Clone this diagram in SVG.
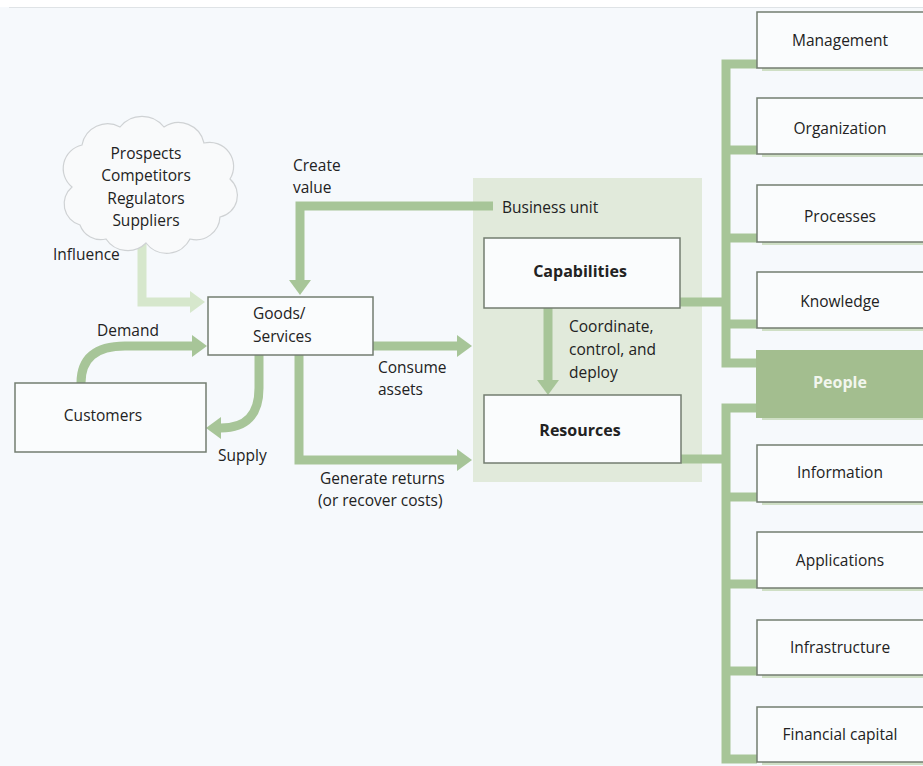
<svg xmlns="http://www.w3.org/2000/svg" width="923" height="766" viewBox="0 0 923 766">
<style>
text{font-family:"Open Sans","Noto Sans","Liberation Sans",sans-serif;font-size:15.5px;fill:#222}
.c{text-anchor:middle}
.b{font-weight:bold;font-size:16px}
.box{fill:#fafcfd;stroke:#737d70;stroke-width:1.5}
.sh{fill:#cfdfc5}
.con{fill:none;stroke:#a7c598;stroke-width:9}
.lite{fill:none;stroke:#d6e7cc;stroke-width:9}
</style>
<defs>
<marker id="ah" markerUnits="userSpaceOnUse" markerWidth="16" markerHeight="24" refX="0" refY="12" orient="auto">
<path d="M0,1 L15,12 L0,23 z" fill="#a7c598"/>
</marker>
<marker id="ahl" markerUnits="userSpaceOnUse" markerWidth="16" markerHeight="24" refX="0" refY="12" orient="auto">
<path d="M0,1 L15,12 L0,23 z" fill="#d6e7cc"/>
</marker>
</defs>
<rect x="0" y="0" width="923" height="766" fill="#f6f9fc"/>
<rect x="0" y="0" width="923" height="7" fill="#ffffff"/>
<line x1="9" y1="7.5" x2="923" y2="7.5" stroke="#dfe3e6" stroke-width="1"/>

<g id="business-unit">
<rect x="473" y="178" width="229" height="304" fill="#e1eadb"/>
<text x="502" y="213">Business unit</text>
</g>

<g id="connectors">
<path class="lite" d="M142,244 V302 H190" marker-end="url(#ahl)"/>
<path class="con" d="M81,383 Q81,346 125,346 H192" marker-end="url(#ah)"/>
<path class="con" d="M259,355 V388 Q259,428 221,428" marker-end="url(#ah)"/>
<path class="con" d="M493,206 H300 V280" marker-end="url(#ah)"/>
<path class="con" d="M373,346 H457" marker-end="url(#ah)"/>
<path class="con" d="M299,355 V460 H457" marker-end="url(#ah)"/>
<path class="con" d="M548,308 V380" marker-end="url(#ah)"/>
<path class="con" d="M680,302 H726"/>
<path class="con" d="M681,459 H726"/>
<path class="con" d="M757,64 H726 V363 H757"/>
<path class="con" d="M726,150 H757 M726,238 H757 M726,324 H757"/>
<path class="con" d="M757,408 H726 V759 H757"/>
<path class="con" d="M726,497 H757 M726,584 H757 M726,671 H757"/>
</g>

<g id="cloud">
<path d="M80,225 a22,22 0 0 1 -8,-38 a24,24 0 0 1 10,-42 a26,26 0 0 1 38,-18 a28,28 0 0 1 44,0 a26,26 0 0 1 40,16 a24,24 0 0 1 26,36 a22,22 0 0 1 -10,38 a24,24 0 0 1 -30,22 a26,26 0 0 1 -44,4 a26,26 0 0 1 -40,-4 a22,22 0 0 1 -26,-14 z" fill="#f9fafb" stroke="#cfd2d4" stroke-width="1.2"/>
<text class="c" x="146" y="159">Prospects</text>
<text class="c" x="146" y="181">Competitors</text>
<text class="c" x="146" y="204">Regulators</text>
<text class="c" x="146" y="226">Suppliers</text>
</g>

<g id="goods-services">
<rect class="box" x="208" y="297" width="165" height="58"/>
<text x="253" y="319">Goods/</text>
<text x="253" y="342">Services</text>
</g>

<g id="customers">
<rect class="box" x="15" y="383" width="191" height="69"/>
<text class="c" x="103" y="421">Customers</text>
</g>

<g id="capabilities">
<rect class="box" x="484" y="238" width="196" height="70"/>
<text class="c b" x="580" y="277">Capabilities</text>
</g>

<g id="resources">
<rect class="box" x="484" y="395" width="197" height="68"/>
<text class="c b" x="580" y="436">Resources</text>
</g>

<g id="labels">
<text x="293" y="171">Create</text>
<text x="293" y="193">value</text>
<text x="53" y="260">Influence</text>
<text x="97" y="336">Demand</text>
<text x="218" y="461">Supply</text>
<text x="378" y="373">Consume</text>
<text x="378" y="395">assets</text>
<text x="320" y="484">Generate returns</text>
<text x="318" y="506">(or recover costs)</text>
<text x="569" y="332">Coordinate,</text>
<text x="569" y="355">control, and</text>
<text x="569" y="378">deploy</text>
</g>

<g id="management"><rect class="sh" x="762" y="66" width="170" height="5"/><rect class="box" x="757" y="12" width="175" height="56"/><text class="c" x="840" y="46">Management</text></g>
<g id="organization"><rect class="sh" x="762" y="152" width="170" height="5"/><rect class="box" x="757" y="98" width="175" height="56"/><text class="c" x="840" y="134">Organization</text></g>
<g id="processes"><rect class="sh" x="762" y="240" width="170" height="5"/><rect class="box" x="757" y="185" width="175" height="57"/><text class="c" x="840" y="222">Processes</text></g>
<g id="knowledge"><rect class="sh" x="762" y="326" width="170" height="5"/><rect class="box" x="757" y="272" width="175" height="56"/><text class="c" x="840" y="307">Knowledge</text></g>
<g id="people"><rect class="sh" x="762" y="415" width="170" height="5"/><rect x="756" y="350" width="176" height="68" fill="#a3be8f"/><text class="c b" x="840" y="388" style="fill:#f2f6ee">People</text></g>
<g id="information"><rect class="sh" x="762" y="500" width="170" height="5"/><rect class="box" x="757" y="445" width="175" height="57"/><text class="c" x="840" y="478">Information</text></g>
<g id="applications"><rect class="sh" x="762" y="586" width="170" height="5"/><rect class="box" x="757" y="532" width="175" height="56"/><text class="c" x="840" y="566">Applications</text></g>
<g id="infrastructure"><rect class="sh" x="762" y="673" width="170" height="5"/><rect class="box" x="757" y="620" width="175" height="55"/><text class="c" x="840" y="653">Infrastructure</text></g>
<g id="financial-capital"><rect class="sh" x="762" y="760" width="170" height="5"/><rect class="box" x="757" y="707" width="175" height="55"/><text class="c" x="840" y="740">Financial capital</text></g>
</svg>
